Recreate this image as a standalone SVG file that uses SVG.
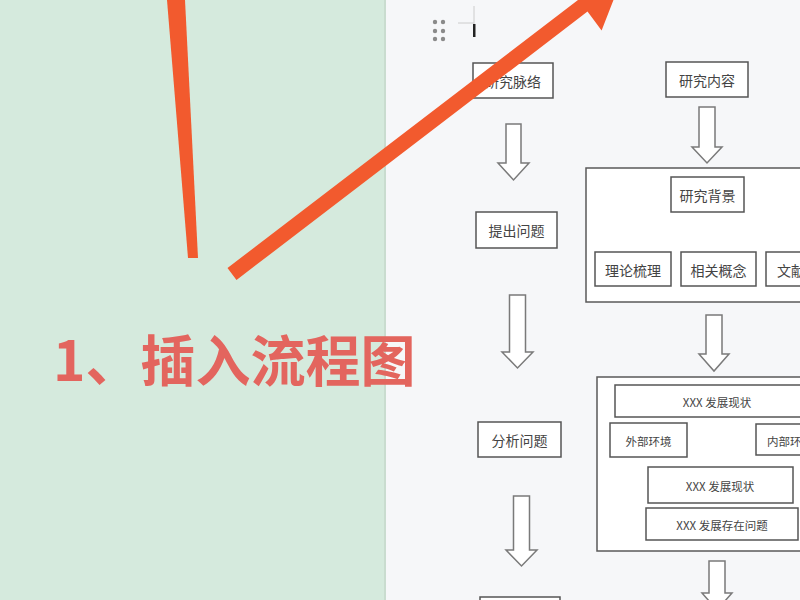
<svg xmlns="http://www.w3.org/2000/svg" width="800" height="600" viewBox="0 0 800 600">
<style>
.box{fill:#ffffff;stroke:#555555;stroke-width:1.5}
.frame{fill:#ffffff;stroke:#5a5a5a;stroke-width:1.5}
.t{font-family:"Noto Sans CJK SC","Noto Sans",sans-serif;font-size:14px;fill:#444444;text-anchor:middle;dominant-baseline:central}
.s{font-size:11.5px}
.arr{fill:#ffffff;stroke:#7a7a7a;stroke-width:1.5;stroke-linejoin:miter}
.red{fill:#f25a2e}
.dot{fill:#8a8a8a}
</style>
<rect x="0" y="0" width="800" height="600" fill="#f6f7f9"/>
<rect x="0" y="0" width="385" height="600" fill="#d5eadd"/>
<rect x="384" y="0" width="2" height="600" fill="#c9dccf"/>

<g id="handle">
<circle class="dot" cx="435" cy="22" r="2.2"/><circle class="dot" cx="443" cy="22" r="2.2"/>
<circle class="dot" cx="435" cy="31" r="2.2"/><circle class="dot" cx="443" cy="31" r="2.2"/>
<circle class="dot" cx="435" cy="39" r="2.2"/><circle class="dot" cx="443" cy="39" r="2.2"/>
<line x1="474" y1="6" x2="474" y2="37" stroke="#cccccc" stroke-width="1"/>
<line x1="458" y1="23" x2="474" y2="23" stroke="#cccccc" stroke-width="1"/>
<rect x="473" y="24" width="2.5" height="13" fill="#222222"/>
</g>

<g id="connectors">
<path class="arr" d="M506,124 H521 V163 H529 L513.5,180 L498,163 H506 Z"/>
<path class="arr" d="M699,107 H715 V147 H722 L707,163 L692,147 H699 Z"/>
<path class="arr" d="M509.5,295 H525.5 V352 H533 L517.5,368 L502,352 H509.5 Z"/>
<path class="arr" d="M513.5,496 H529.5 V550 H537 L521.5,566 L506,550 H513.5 Z"/>
<path class="arr" d="M706,315 H722 V354 H729 L714,371 L699,354 H706 Z"/>
<path class="arr" d="M709,561 H725 V593 H732 L717,610 L702,593 H709 Z"/>
</g>

<g id="n-maiLuo"><rect class="box" x="473" y="63" width="80" height="35"/><text class="t" x="513" y="81">研究脉络</text></g>
<g id="n-neiRong"><rect class="box" x="666" y="62" width="82" height="35"/><text class="t" x="707" y="80">研究内容</text></g>
<g id="n-tiChu"><rect class="box" x="476" y="212" width="81" height="36"/><text class="t" x="516.5" y="230">提出问题</text></g>
<g id="n-fenXi"><rect class="box" x="478" y="422" width="83" height="35"/><text class="t" x="519.5" y="440">分析问题</text></g>
<g id="n-bottom"><rect class="box" x="480" y="597" width="80" height="35"/></g>

<g id="g-frame1">
<rect class="frame" x="586" y="168" width="230" height="134"/>
<g id="n-beiJing"><rect class="box" x="671" y="177" width="73" height="35"/><text class="t" x="707.5" y="195">研究背景</text></g>
<g id="n-liLun"><rect class="box" x="595" y="252" width="76" height="34"/><text class="t" x="633" y="270">理论梳理</text></g>
<g id="n-gaiNian"><rect class="box" x="681" y="252" width="75" height="34"/><text class="t" x="718.5" y="270">相关概念</text></g>
<g id="n-wenXian"><rect class="box" x="766" y="252" width="80" height="34"/><text class="t" x="777" y="270" text-anchor="start" style="text-anchor:start">文献</text></g>
</g>

<g id="g-frame2">
<rect class="frame" x="597" y="377" width="220" height="174"/>
<g id="n-xianZhuang1"><rect class="box" x="615" y="385" width="205" height="32"/><text class="t s" x="717" y="402">XXX 发展现状</text></g>
<g id="n-waiBu"><rect class="box" x="610" y="423" width="77" height="34"/><text class="t s" x="648.5" y="441">外部环境</text></g>
<g id="n-neiBu"><rect class="box" x="756" y="424" width="80" height="31"/><text class="t s" x="767" y="441" style="text-anchor:start">内部环境</text></g>
<g id="n-xianZhuang2"><rect class="box" x="648" y="467" width="145" height="36"/><text class="t s" x="720" y="486">XXX 发展现状</text></g>
<g id="n-wenTi"><rect class="box" x="646" y="508" width="152" height="32"/><text class="t s" x="722" y="525">XXX 发展存在问题</text></g>
</g>

<g id="annotation">
<polygon class="red" points="167,0 185,0 198,258 188,258"/>
<polygon class="red" points="227.5,268 578.5,-0.4 564.4,-19.2 623,-24.4 601.6,30.4 587.5,11.6 236.5,280"/>
<text x="53" y="381" font-family="Noto Sans CJK SC, Noto Sans, sans-serif" font-size="55" font-weight="bold" fill="#e3655e">1、插入流程图</text>
</g>
</svg>
